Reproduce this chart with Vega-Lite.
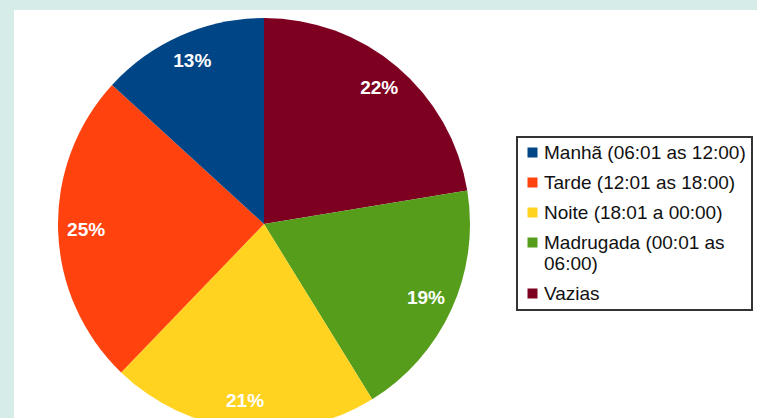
{
  "$schema": "https://vega.github.io/schema/vega-lite/v6.json",
  "autosize": {"type": "none"},
  "padding": {"left": 14, "top": 10, "right": 243, "bottom": 0},
  "background": "#d6ece9",
  "width": 500,
  "height": 428,
  "view": {"fill": "white", "stroke": "white", "strokeWidth": 486, "strokeDash": [0, 500, 428, 1000]},
  "data": {
    "values": [
      {"periodo": "Vazias", "valor": 22.4, "rotulo": "22%", "ordem": 1},
      {"periodo": "Madrugada (00:01 as 06:00)", "valor": 18.8, "rotulo": "19%", "ordem": 2},
      {"periodo": "Noite (18:01 a 00:00)", "valor": 21.0, "rotulo": "21%", "ordem": 3},
      {"periodo": "Tarde (12:01 as 18:00)", "valor": 24.6, "rotulo": "25%", "ordem": 4},
      {"periodo": "Manhã (06:01 as 12:00)", "valor": 13.2, "rotulo": "13%", "ordem": 5}
    ]
  },
  "encoding": {
    "theta": {"field": "valor", "type": "quantitative", "stack": true},
    "order": {"field": "ordem", "type": "quantitative"}
  },
  "layer": [
    {
      "mark": {"type": "arc", "outerRadius": 206},
      "encoding": {
        "color": {
          "field": "periodo",
          "type": "nominal",
          "scale": {
            "domain": ["Manhã (06:01 as 12:00)", "Tarde (12:01 as 18:00)", "Noite (18:01 a 00:00)", "Madrugada (00:01 as 06:00)", "Vazias"],
            "range": ["#004586", "#ff420e", "#ffd320", "#579d1c", "#7e0021"]
          },
          "legend": {
            "title": null,
            "orient": "none",
            "legendX": 503,
            "legendY": 127,
            "symbolType": "square",
            "symbolSize": 100,
            "symbolStrokeWidth": 0,
            "labelFont": "Liberation Sans",
            "labelFontSize": 19,
            "labelColor": "#111111",
            "labelLimit": 400,
            "labelOffset": 2,
            "rowPadding": 10,
            "padding": 6,
            "strokeColor": "#333333",
            "fillColor": "white",
            "labelExpr": "datum.label == 'Madrugada (00:01 as 06:00)' ? ['Madrugada (00:01 as', '06:00)'] : datum.label"
          }
        }
      }
    },
    {
      "mark": {"type": "text", "radius": 178, "fill": "white", "font": "Liberation Sans", "fontSize": 19, "fontWeight": "bold"},
      "encoding": {"text": {"field": "rotulo", "type": "nominal"}}
    }
  ],
  "config": {"legend": {"strokeWidth": 2}}
}
